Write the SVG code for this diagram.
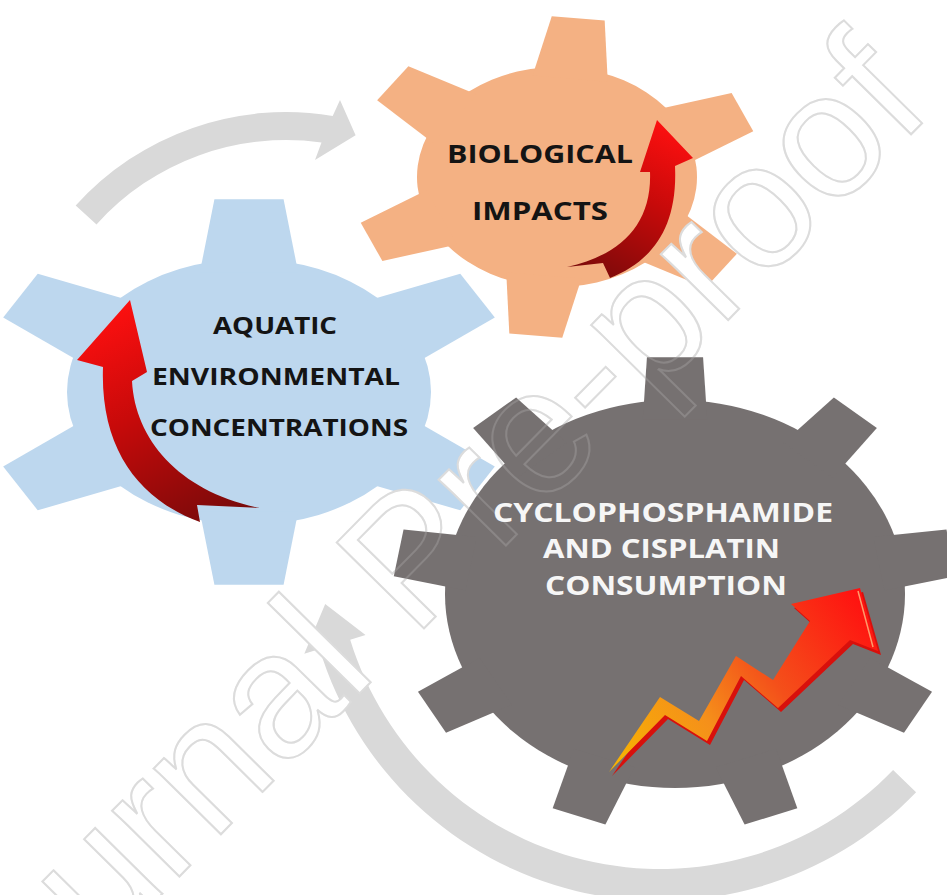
<svg xmlns="http://www.w3.org/2000/svg" width="947" height="895" viewBox="0 0 947 895">
  <defs>
    <style>
      .lbl { font-family: "Open Sans", "Liberation Sans", sans-serif; font-weight: 700; text-anchor: middle; }
      .dark { fill: #141414; }
      .light { fill: #f6f6f6; }
      .cycle { fill: #d9d9d9; }
      .mark { font-family: "Liberation Sans", Arial, sans-serif; font-size: 178px; text-anchor: middle; }
    </style>
    <!-- unit-space teeth, pointing up; scaled by each gear's transform -->
    <polygon id="tooth6" points="-0.27,-0.9 -0.19,-1.45 0.19,-1.45 0.27,-0.9"/>
    <polygon id="tooth9" points="-0.14,-0.9 -0.122,-1.22 0.122,-1.22 0.14,-0.9"/>
    <linearGradient id="redA" gradientUnits="userSpaceOnUse" x1="120" y1="300" x2="230" y2="515">
      <stop offset="0" stop-color="#ff1010"/>
      <stop offset="0.45" stop-color="#c80a0a"/>
      <stop offset="1" stop-color="#7a0a0a"/>
    </linearGradient>
    <linearGradient id="redB" gradientUnits="userSpaceOnUse" x1="665" y1="120" x2="585" y2="275">
      <stop offset="0" stop-color="#ff1010"/>
      <stop offset="0.45" stop-color="#c80a0a"/>
      <stop offset="1" stop-color="#7a0a0a"/>
    </linearGradient>
    <linearGradient id="zig" gradientUnits="userSpaceOnUse" x1="610" y1="770" x2="860" y2="590">
      <stop offset="0" stop-color="#f7b500"/>
      <stop offset="0.35" stop-color="#f5901a"/>
      <stop offset="0.6" stop-color="#f4501a"/>
      <stop offset="1" stop-color="#ff1010"/>
    </linearGradient>
  </defs>

  <rect width="947" height="895" fill="#ffffff"/>

  <!-- cycle arrows -->
  <g id="connectors">
    <path class="cycle" d="M75.7,205.6 A283,283 0 0 1 332.7,116 L340,100 L355.6,135.2 L315,160 L321.5,142.5 A255,255 0 0 0 96.5,224.4 Z"/>
    <path class="cycle" d="M893.1,770.1 A324,324 0 0 1 350.2,639.7 L365.5,635.1 L325.2,604 L304.3,653.8 L319.6,649.1 A356,356 0 0 0 916.1,792.3 Z"/>
  </g>

  <!-- aquatic environmental concentrations -->
  <g id="gear-aquatic">
    <g transform="translate(249,392) scale(182,133)" fill="#bdd7ee">
      <circle r="1"/>
      <use href="#tooth6"/>
      <use href="#tooth6" transform="rotate(60)"/>
      <use href="#tooth6" transform="rotate(120)"/>
      <use href="#tooth6" transform="rotate(180)"/>
      <use href="#tooth6" transform="rotate(240)"/>
      <use href="#tooth6" transform="rotate(300)"/>
    </g>
    <path fill="url(#redA)" d="M200,522 C140,500 100,450 103,367 L77,360 L130,300 L147,372 L132,381 C135,440 180,492 260,508 L197,505 Z"/>
    <text class="lbl dark" font-size="24" x="275" y="334" textLength="124" lengthAdjust="spacingAndGlyphs">AQUATIC</text>
    <text class="lbl dark" font-size="24" x="276" y="385" textLength="248" lengthAdjust="spacingAndGlyphs">ENVIRONMENTAL</text>
    <text class="lbl dark" font-size="24" x="279" y="436" textLength="258" lengthAdjust="spacingAndGlyphs">CONCENTRATIONS</text>
  </g>

  <!-- biological impacts -->
  <g id="gear-biological">
    <g transform="translate(557,177) scale(140,110) rotate(6)" fill="#f4b183">
      <circle r="1"/>
      <use href="#tooth6"/>
      <use href="#tooth6" transform="rotate(60)"/>
      <use href="#tooth6" transform="rotate(120)"/>
      <use href="#tooth6" transform="rotate(180)"/>
      <use href="#tooth6" transform="rotate(240)"/>
      <use href="#tooth6" transform="rotate(300)"/>
    </g>
    <path fill="url(#redB)" d="M567,267 C620,255 652,225 650,172 L640,172 L657,120 L693,158 L675,166 C678,230 650,262 610,278 L603,263 Z"/>
    <text class="lbl dark" font-size="25" x="540" y="163" textLength="186" lengthAdjust="spacingAndGlyphs">BIOLOGICAL</text>
    <text class="lbl dark" font-size="25" x="540" y="220" textLength="136" lengthAdjust="spacingAndGlyphs">IMPACTS</text>
  </g>

  <!-- watermark -->
  <text class="mark" fill="#ffffff" stroke="#d6d6d6" stroke-width="2" transform="translate(452,600) rotate(-45.4)">Journal Pre-proof</text>

  <!-- cyclophosphamide and cisplatin consumption -->
  <g id="gear-consumption">
    <g transform="translate(675,594) scale(230,194)" fill="#767171">
      <circle r="1"/>
      <use href="#tooth9"/>
      <use href="#tooth9" transform="rotate(40)"/>
      <use href="#tooth9" transform="rotate(80)"/>
      <use href="#tooth9" transform="rotate(120)"/>
      <use href="#tooth9" transform="rotate(160)"/>
      <use href="#tooth9" transform="rotate(200)"/>
      <use href="#tooth9" transform="rotate(240)"/>
      <use href="#tooth9" transform="rotate(280)"/>
      <use href="#tooth9" transform="rotate(320)"/>
    </g>
    <text class="lbl light" font-size="26.5" x="663" y="522" textLength="340" lengthAdjust="spacingAndGlyphs">CYCLOPHOSPHAMIDE</text>
    <text class="lbl light" font-size="26.5" x="661.5" y="558" textLength="237" lengthAdjust="spacingAndGlyphs">AND CISPLATIN</text>
    <text class="lbl light" font-size="26.5" x="666" y="595" textLength="242" lengthAdjust="spacingAndGlyphs">CONSUMPTION</text>
    <!-- rising zigzag: extruded side, then face -->
    <polygon fill="#d8100c" transform="translate(3,4)" points="609,772 660,697 699,721 736,656 773,680 810,621 791,604 860,588 878,651 850,640 778,708 741,676 707,741 665,715"/>
    <polygon fill="url(#zig)" points="609,772 660,697 699,721 736,656 773,680 810,621 791,604 860,588 878,651 850,640 778,708 741,676 707,741 665,715"/>
    <line x1="858" y1="591" x2="873" y2="647" stroke="#ff9a6a" stroke-width="1.5"/>
  </g>

  <!-- watermark, faint pass over the dark gear -->
  <text class="mark" fill="none" stroke="#ffffff" stroke-opacity="0.15" stroke-width="2" transform="translate(452,600) rotate(-45.4)">Journal Pre-proof</text>
</svg>
